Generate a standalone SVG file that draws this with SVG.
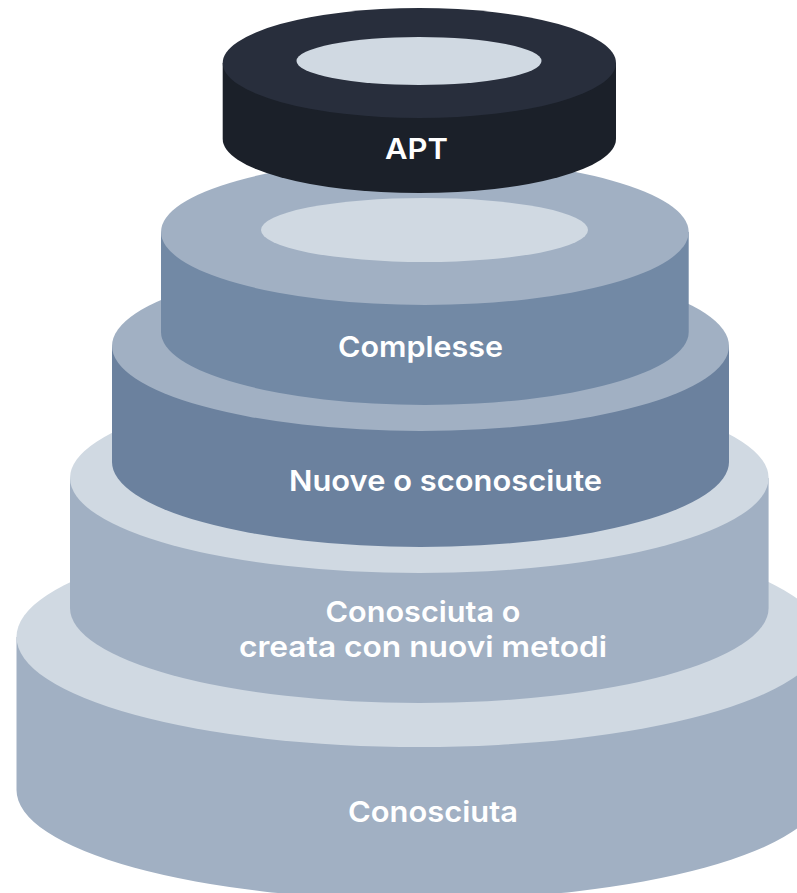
<svg xmlns="http://www.w3.org/2000/svg" width="797" height="893" viewBox="0 0 797 893">
  <style>
    .lbl { font-family: Inter, "Open Sans", "Liberation Sans", sans-serif; font-weight: 600; font-size: 29px; fill: #ffffff; text-anchor: middle; }
    .pale { fill: #d0d9e2; }
    .mid { fill: #a1b0c3; }
    .s2 { fill: #7289a5; }
    .s3 { fill: #6b819e; }
    .aptTop { fill: #282e3c; }
    .aptSide { fill: #1b2029; }
  </style>
  <rect width="797" height="893" fill="#ffffff"/>

  <g id="tier-conosciuta">
    <path class="mid" d="M16.5 637 V790 A403 110 0 0 0 822.5 790 V637 Z"/>
    <ellipse class="pale" cx="419.5" cy="637" rx="403" ry="110"/>
    <text class="lbl" x="433" y="822" textLength="170" lengthAdjust="spacingAndGlyphs">Conosciuta</text>
  </g>

  <g id="tier-conosciuta-nuovi-metodi">
    <path class="mid" d="M70 478 V608 A349.3 95 0 0 0 768.6 608 V478 Z"/>
    <ellipse class="pale" cx="419.3" cy="478" rx="349.3" ry="95"/>
    <text class="lbl" x="423" y="622" textLength="195" lengthAdjust="spacingAndGlyphs">Conosciuta o</text>
    <text class="lbl" x="423" y="657" textLength="368" lengthAdjust="spacingAndGlyphs">creata con nuovi metodi</text>
  </g>

  <g id="tier-nuove">
    <path class="s3" d="M112 346 V462 A308.5 85 0 0 0 729 462 V346 Z"/>
    <ellipse class="mid" cx="420.5" cy="346" rx="308.5" ry="85"/>
    <text class="lbl" x="445.5" y="491" textLength="313" lengthAdjust="spacingAndGlyphs">Nuove o sconosciute</text>
  </g>

  <g id="tier-complesse">
    <path class="s2" d="M161 232 V332 A263.85 73 0 0 0 688.7 332 V232 Z"/>
    <ellipse class="mid" cx="424.85" cy="232" rx="263.85" ry="73"/>
    <ellipse class="pale" cx="424.5" cy="230" rx="163.5" ry="32"/>
    <text class="lbl" x="420.5" y="357" textLength="165" lengthAdjust="spacingAndGlyphs">Complesse</text>
  </g>

  <g id="tier-apt">
    <path class="aptSide" d="M222.7 63 V139 A196.65 54 0 0 0 616 139 V63 Z"/>
    <ellipse class="aptTop" cx="419.35" cy="63" rx="196.65" ry="55"/>
    <ellipse class="pale" cx="419" cy="61" rx="122.5" ry="24"/>
    <text class="lbl" x="416.5" y="159" textLength="63" lengthAdjust="spacingAndGlyphs">APT</text>
  </g>
</svg>
